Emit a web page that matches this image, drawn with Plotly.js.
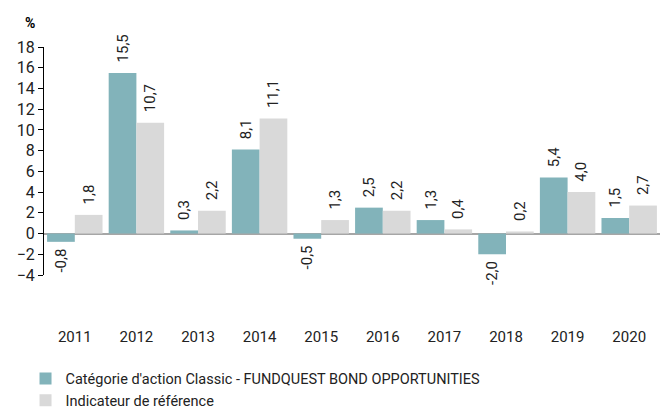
<!DOCTYPE html>
<html><head><meta charset="utf-8">
<script src="https://cdn.plot.ly/plotly-3.0.1.min.js"></script>
<style>html,body{margin:0;padding:0;background:#fff}#c{width:660px;height:412px}</style>
</head><body><div id="c"></div>
<script>
const years = ['2011','2012','2013','2014','2015','2016','2017','2018','2019','2020'];
const fundName = "Catégorie d'action Classic - FUNDQUEST BOND OPPORTUNITIES";
const benchName = "Indicateur de référence";
const fundValues = [-0.8, 15.5, 0.3, 8.1, -0.5, 2.5, 1.3, -2.0, 5.4, 1.5];
const benchValues = [1.8, 10.7, 2.2, 11.1, 1.3, 2.2, 0.4, 0.2, 4.0, 2.7];
const yTicks = [-4,-2,0,2,4,6,8,10,12,14,16,18];

const F = 'Roboto, "Open Sans", sans-serif';
const NB = '\u00A0';
function mk(name, vals, color){
  return {type:'bar', name:name, x:years, y:vals,
    marker:{color:color},
    texttemplate: vals.map(v => v >= 0 ? NB+NB+'%{y:.1f}' : '%{y:.1f}'+NB),
    textposition:'outside', textangle:-90,
    constraintext:'none', cliponaxis:false,
    textfont:{family:F, size:15, color:'#222'}, hoverinfo:'none'};
}
const data = [mk(fundName, fundValues, '#82B3BA'), mk(benchName, benchValues, '#D9D9D9')];
const layout = {
  width:660, height:412, separators:', ',
  margin:{l:44, r:0, t:47, b:137},
  paper_bgcolor:'#fff', plot_bgcolor:'#fff',
  font:{family:F, size:15, color:'#222'},
  barmode:'group', bargap:0.1, bargroupgap:0,
  showlegend:true,
  legend:{orientation:'v', x:-0.03, xanchor:'left',
    y:0.12, yref:'container', yanchor:'top',
    font:{family:F, size:14.5, color:'#222'}, tracegroupgap:0, itemwidth:30},
  xaxis:{type:'category', showline:false, showgrid:false, zeroline:false, automargin:false,
    ticks:'outside', ticklen:48, tickcolor:'rgba(0,0,0,0)',
    tickfont:{family:F, size:15, color:'#222'}},
  yaxis:{range:[-4,18], tickvals:yTicks, showgrid:false, automargin:false,
    showline:true, linecolor:'#000', linewidth:1,
    ticks:'outside', ticklen:5, tickcolor:'#000',
    zeroline:true, zerolinecolor:'#a6a6a6', zerolinewidth:2,
    tickfont:{family:F, size:16, color:'#222'}},
  annotations:[{text:'<b>%</b>', xref:'paper', yref:'paper', x:-0.022, y:1.06,
    xanchor:'center', yanchor:'bottom', showarrow:false, font:{family:F, size:14, color:'#000'}}]
};
Plotly.newPlot('c', data, layout, {displayModeBar:false, staticPlot:true});
</script></body></html>
